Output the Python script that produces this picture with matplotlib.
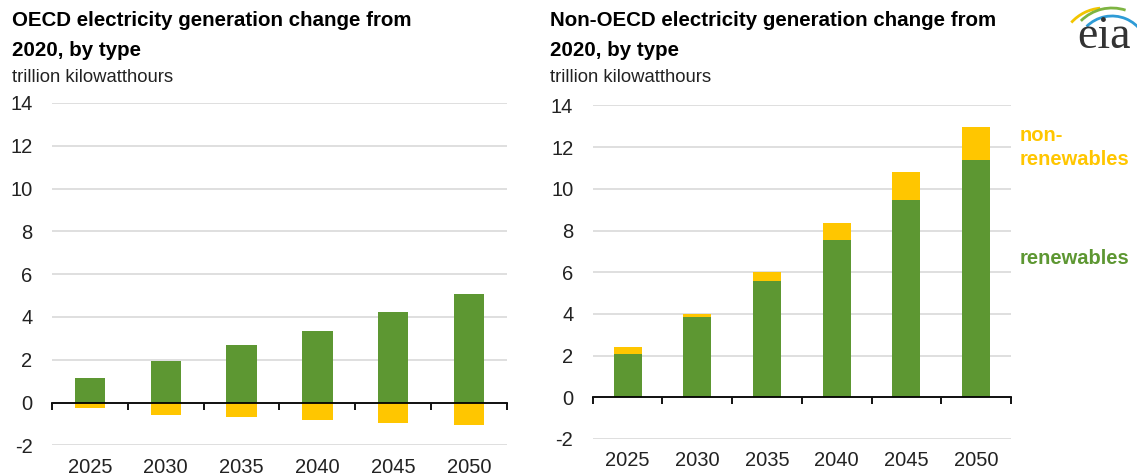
import numpy as np
import matplotlib
matplotlib.use("Agg")
from matplotlib import pyplot as plt
from matplotlib.patches import Arc

plt.rcParams['font.family'] = ['Liberation Sans', 'DejaVu Sans']
plt.rcParams['axes.unicode_minus'] = False

years = ['2025', '2030', '2035', '2040', '2045', '2050']
oecd_renew = [1.15, 1.92, 2.67, 3.36, 4.25, 5.05]
oecd_nonrenew = [-0.25, -0.57, -0.68, -0.80, -0.98, -1.07]
nonoecd_renew = [2.09, 3.87, 5.58, 7.56, 9.46, 11.37]
nonoecd_nonrenew = [0.31, 0.14, 0.43, 0.79, 1.35, 1.61]

GREEN = '#5D9732'
YELLOW = '#FFC600'
W, H = 1137, 475


def style_axes(ax):
    x = np.arange(len(years))
    ax.set_xlim(-0.5, len(years) - 0.5)
    ax.set_ylim(-2, 14)
    ax.set_yticks(np.arange(-2, 15, 2))
    ax.yaxis.grid(True, color='#d9d9d9', linewidth=1.2)
    ax.set_axisbelow(True)
    for s in ['top', 'right', 'left']:
        ax.spines[s].set_visible(False)
    ax.spines['bottom'].set_position(('data', 0.0))
    ax.spines['bottom'].set_color('black')
    ax.spines['bottom'].set_linewidth(1.3)
    ax.spines['bottom'].set_zorder(5)
    ax.set_xticks(np.arange(-0.5, len(years), 1.0))
    ax.tick_params(axis='x', direction='out', length=5, width=1.3,
                   labelbottom=False, color='black')
    ax.tick_params(axis='y', length=0, pad=14, labelsize=14.5,
                   labelcolor='#222222')
    sec = ax.secondary_xaxis(0.0)
    sec.set_xticks(x, years)
    sec.tick_params(length=0, pad=9, labelsize=14.5, labelcolor='#222222')
    sec.spines['bottom'].set_visible(False)


def fx(px):
    return px / W


def fy(py):
    return 1 - py / H


fig = plt.figure(figsize=(11.37, 4.75), dpi=100)

# OECD panel
ax1 = fig.add_axes([fx(52), fy(445.3), fx(455), (445.3 - 103) / H])
x = np.arange(len(years))
ax1.bar(x, oecd_renew, width=0.4, color=GREEN, zorder=3)
ax1.bar(x, oecd_nonrenew, width=0.4, color=YELLOW, zorder=3)
style_axes(ax1)

# non-OECD panel
ax2 = fig.add_axes([fx(592.7), fy(439), fx(418.3), (439 - 105.4) / H])
ax2.bar(x, nonoecd_renew, width=0.4, color=GREEN, zorder=3)
ax2.bar(x, nonoecd_nonrenew, width=0.4, bottom=nonoecd_renew,
        color=YELLOW, zorder=3)
style_axes(ax2)

# titles
tkw = dict(fontsize=14.8, fontweight='bold', va='center', ha='left')
fig.text(fx(12), fy(20), 'OECD electricity generation change from', **tkw)
fig.text(fx(12), fy(50), '2020, by type', **tkw)
fig.text(fx(12), fy(78), 'trillion kilowatthours', fontsize=13.3,
         va='center', ha='left', color='#222222')
fig.text(fx(550), fy(20), 'Non-OECD electricity generation change from', **tkw)
fig.text(fx(550), fy(50), '2020, by type', **tkw)
fig.text(fx(550), fy(78), 'trillion kilowatthours', fontsize=13.3,
         va='center', ha='left', color='#222222')

# series labels
fig.text(fx(1020), fy(147.5), 'non-\nrenewables', color=YELLOW, fontsize=14.5,
         fontweight='bold', va='center', ha='left', linespacing=1.35)
fig.text(fx(1020), fy(258), 'renewables', color=GREEN, fontsize=14.5,
         fontweight='bold', va='center', ha='left')

# eia logo
fig.text(fx(1104), fy(48), 'eia', family=['Liberation Serif', 'DejaVu Serif'],
         fontsize=33, color='#333333', ha='center', va='baseline')
lax = fig.add_axes([0, 0, 1, 1])
lax.set_xlim(0, W)
lax.set_ylim(0, H)
lax.axis('off')
for cx, r, t1, t2, c in [(1104, 44, 95, 138, '#F2C500'),
                         (1112, 44, 72, 135, '#7DB441'),
                         (1112, 36, 0, 135, '#2E9BD6')]:
    lax.add_patch(Arc((cx, H - 52), 2 * r, 2 * r, theta1=t1, theta2=t2,
                      color=c, linewidth=2.0))

fig.savefig('out.png', dpi=100)
